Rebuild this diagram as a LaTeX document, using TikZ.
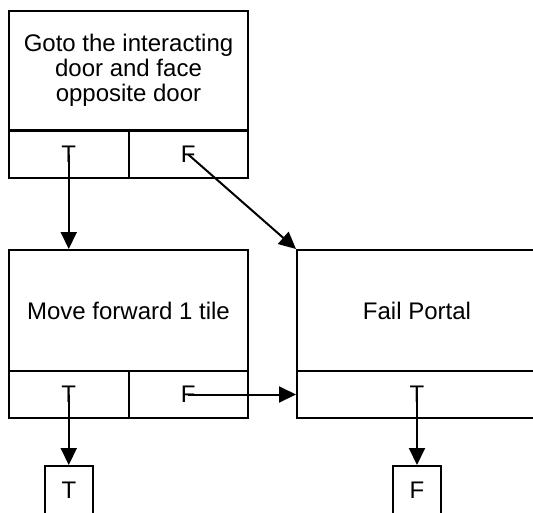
\documentclass[tikz,border=0pt]{standalone}
\usepackage{fontspec}
\setmainfont{Liberation Sans}
\usetikzlibrary{arrows.meta}

\tikzset{
  cell/.style={draw, line width=2pt, rectangle, inner sep=0pt, align=center},
  link/.style={line width=2pt, -{Triangle[length=17pt,width=16pt]}}
}

\begin{document}
\begin{tikzpicture}[x=1pt, y=-1pt, font=\fontsize{24}{25}\selectfont]
      \clip (0,0) rectangle (533,512);

      \node[cell, minimum width=239pt, minimum height=119pt] (goto)   at (128.5,70.5) {Goto the interacting\\door and face\\opposite door};
      \node[cell, minimum width=119.5pt, minimum height=47pt] (goto-t) at (68.75,154.5) {T};
      \node[cell, minimum width=119.5pt, minimum height=47pt] (goto-f) at (188.25,154.5) {F};

      \node[cell, minimum width=239pt, minimum height=121pt] (move)   at (128.5,310.5) {Move forward 1 tile};
      \node[cell, minimum width=119.5pt, minimum height=47pt] (move-t) at (68.75,394.5) {T};
      \node[cell, minimum width=119.5pt, minimum height=47pt] (move-f) at (188.25,394.5) {F};

      \node[cell, minimum width=240pt, minimum height=121pt] (fail)   at (417,310.5) {Fail Portal};
      \node[cell, minimum width=240pt, minimum height=47pt]  (fail-t) at (417,394.5) {T};

      \node[cell, minimum width=48pt, minimum height=48pt] (res-t) at (69,490) {T};
      \node[cell, minimum width=48pt, minimum height=48pt] (res-f) at (417,490) {F};

      \draw[link] (goto-t.center) -- (goto-t.center |- move.north);
      \draw[link] (goto-f.center) -- (fail.north west);
      \draw[link] (move-f.center) -- (fail-t.west);
      \draw[link] (move-t.center) -- (move-t.center |- res-t.north);
      \draw[link] (fail-t.center) -- (res-f.north);
    \end{tikzpicture}
\end{document}
